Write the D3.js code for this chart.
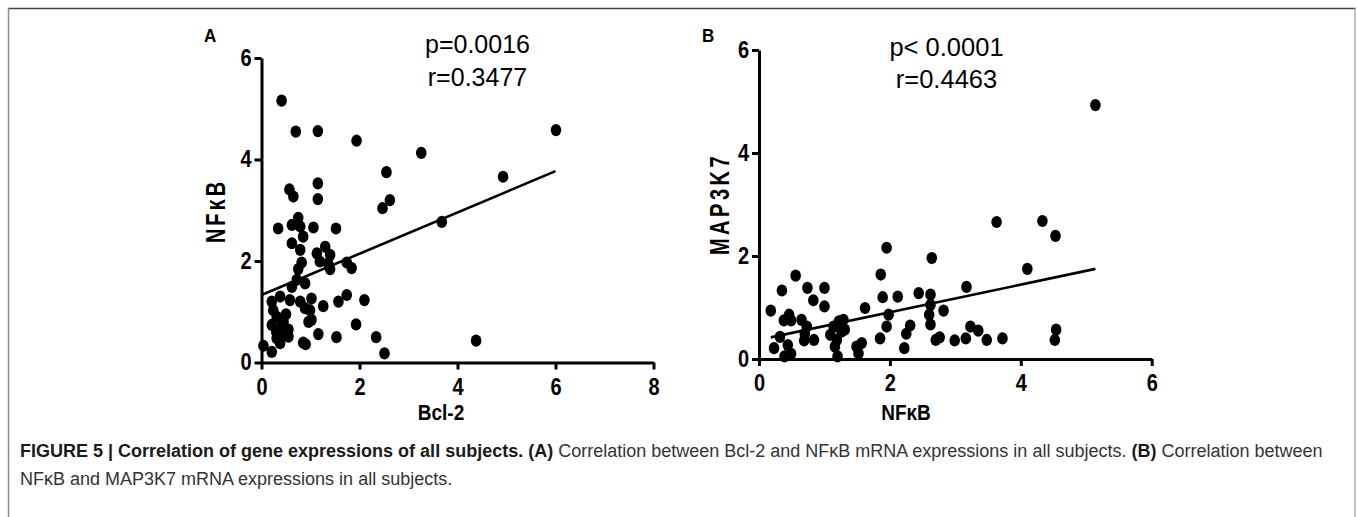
<!DOCTYPE html>
<html>
<head>
<meta charset="utf-8">
<script src="https://cdn.jsdelivr.net/npm/d3@7"></script>
<style>
  body { margin: 0; background: #fff; }
  svg { display: block; }
  text { font-family: "Liberation Sans", Arial, Helvetica, sans-serif; }
</style>
</head>
<body>
<svg id="fig" width="1357" height="517"></svg>
<script>
// Panel A: Bcl-2 (x) vs NFkB (y)
const bcl2 = [0.41, 0.70, 1.15, 1.94, 3.26, 6.01, 4.93, 2.55, 0.57, 0.65, 1.15, 1.15, 2.62, 2.47, 0.75,
  0.34, 0.62, 0.79, 1.06, 1.52, 0.85, 0.62, 0.79, 1.13, 1.30, 1.40, 1.19, 1.36, 1.40, 1.74, 1.84,
  0.82, 0.75, 0.72, 0.89, 0.62, 0.21, 0.38, 0.58, 0.79, 1.02, 0.89, 0.99, 1.02, 1.26, 1.57, 1.74,
  2.10, 0.24, 0.31, 0.21, 0.41, 0.51, 0.45, 0.31, 0.55, 0.04, 0.21, 0.38, 0.85, 1.16, 1.53, 1.93,
  2.34, 2.51, 3.68, 4.38, 0.30, 0.45, 0.50, 0.55, 0.90, 0.96];
const nfkbA = [5.16, 4.55, 4.56, 4.37, 4.13, 4.58, 3.66, 3.75, 3.41, 3.27, 3.53, 3.22, 3.20, 3.04, 2.85,
  2.64, 2.71, 2.68, 2.66, 2.64, 2.48, 2.35, 2.22, 2.15, 2.28, 2.12, 1.99, 1.95, 1.84, 1.97, 1.86,
  1.97, 1.84, 1.63, 1.56, 1.49, 1.20, 1.30, 1.23, 1.20, 1.26, 1.07, 1.03, 0.84, 1.11, 1.20, 1.33,
  1.23, 1.03, 0.90, 0.74, 0.71, 0.64, 0.54, 0.48, 0.51, 0.33, 0.21, 0.38, 0.39, 0.56, 0.50, 0.75,
  0.50, 0.18, 2.77, 0.43, 0.60, 0.80, 0.95, 0.65, 0.36, 0.80];
const fitAx = [0, 6.0];
const fitAy = [1.33, 3.77];

// Panel B: NFkB (x) vs MAP3K7 (y)
const nfkbB = [5.14, 3.63, 4.33, 4.53, 1.95, 2.64, 4.10, 1.86, 0.56, 0.35, 0.74, 1.00, 3.17, 0.83, 1.89,
  2.12, 2.44, 2.62, 0.18, 1.00, 1.62, 2.82, 2.62, 2.60, 1.98, 1.95, 2.31, 2.25, 2.62, 1.85, 2.22,
  2.70, 2.76, 2.99, 3.16, 3.23, 3.35, 3.48, 3.72, 4.54, 4.52, 0.38, 0.46, 0.49, 0.65, 0.70, 0.84,
  0.69, 0.73, 0.23, 0.32, 0.39, 0.49, 0.44, 1.09, 1.14, 1.22, 1.29, 1.26, 1.19, 1.16, 1.20, 1.31,
  1.49, 1.57, 1.52];
const map3k7 = [4.93, 2.66, 2.68, 2.39, 2.16, 1.96, 1.75, 1.64, 1.62, 1.33, 1.38, 1.38, 1.40, 1.14, 1.20,
  1.21, 1.28, 1.25, 0.94, 1.02, 0.99, 0.94, 1.05, 0.86, 0.86, 0.63, 0.65, 0.49, 0.67, 0.40, 0.21,
  0.37, 0.42, 0.36, 0.40, 0.63, 0.55, 0.37, 0.40, 0.57, 0.37, 0.75, 0.86, 0.75, 0.76, 0.49, 0.37,
  0.36, 0.63, 0.21, 0.43, 0.05, 0.10, 0.27, 0.47, 0.63, 0.73, 0.76, 0.53, 0.37, 0.24, 0.05, 0.57,
  0.24, 0.31, 0.11];
const fitBx = [0.18, 5.14];
const fitBy = [0.42, 1.75];

const xTicksA = [0, 2, 4, 6, 8];
const xTicksB = [0, 2, 4, 6];
const yTicks = [0, 2, 4, 6];

const svg = d3.select("#fig");

// frame round the figure
svg.append("line").attr("x1", 8).attr("x2", 1355.5).attr("y1", 8.5).attr("y2", 8.5)
  .attr("stroke", "#444").attr("stroke-width", 1.5);
svg.append("line").attr("x1", 8.5).attr("x2", 8.5).attr("y1", 8).attr("y2", 517)
  .attr("stroke", "#888").attr("stroke-width", 1.5);
svg.append("line").attr("x1", 1355).attr("x2", 1355).attr("y1", 8).attr("y2", 517)
  .attr("stroke", "#999").attr("stroke-width", 1.2);

// text slightly taller than wide, as in the scanned figure
const tallText = (g, x, y, str, size, k, anchor, weight) =>
  g.append("text")
    .attr("transform", `translate(${x},${y}) scale(1,${k})`)
    .attr("text-anchor", anchor)
    .attr("font-size", size)
    .attr("font-weight", weight)
    .attr("fill", "#000")
    .text(str);

const styleTicks = (sel) => {
  sel.select(".domain").attr("stroke", "#000").attr("stroke-width", 3);
  sel.selectAll(".tick line").attr("stroke", "#000").attr("stroke-width", 3);
  sel.selectAll(".tick text")
    .attr("font-size", 20)
    .attr("font-weight", "bold")
    .attr("fill", "#000")
    .attr("font-family", '"Liberation Sans", Arial, sans-serif')
    .each(function () {
      const t = d3.select(this);
      const yy = +t.attr("y") || 0;
      t.attr("y", 0).attr("transform", `translate(0,${yy}) scale(1,1.15)`);
    });
};

const drawPanel = (p) => {
  const g = svg.append("g");
  const x = d3.scaleLinear().domain(p.xDomain).range(p.xRange);
  const y = d3.scaleLinear().domain([0, 6]).range(p.yRange);

  g.append("g")
    .attr("transform", `translate(0,${p.yRange[0]})`)
    .call(d3.axisBottom(x).tickValues(p.xTicks).tickFormat(d3.format("d"))
      .tickSize(7).tickSizeOuter(0).tickPadding(9))
    .call(styleTicks);

  g.append("g")
    .attr("transform", `translate(${p.xRange[0]},0)`)
    .call(d3.axisLeft(y).tickValues(yTicks).tickFormat(d3.format("d"))
      .tickSize(7).tickSizeOuter(0).tickPadding(3))
    .call(styleTicks);

  // regression line
  g.append("line")
    .attr("x1", x(p.fitX[0])).attr("y1", y(p.fitY[0]))
    .attr("x2", x(p.fitX[1])).attr("y2", y(p.fitY[1]))
    .attr("stroke", "#000").attr("stroke-width", 2.6);

  // points
  g.selectAll("ellipse.pt")
    .data(p.xs.map((v, i) => [v, p.ys[i]]))
    .enter().append("ellipse")
    .attr("class", "pt")
    .attr("cx", d => x(d[0]))
    .attr("cy", d => y(d[1]))
    .attr("rx", 5.3)
    .attr("ry", 6.1)
    .attr("fill", "#000");

  // panel letter
  tallText(g, p.letterX, 42, p.letter, 17, 1.1, "start", "bold");

  // statistics
  const cx = p.statX;
  g.append("text").attr("x", cx).attr("y", p.statY[0]).attr("text-anchor", "middle")
    .attr("font-size", p.statSize).text(p.stats[0]);
  g.append("text").attr("x", cx).attr("y", p.statY[1]).attr("text-anchor", "middle")
    .attr("font-size", p.statSize).text(p.stats[1]);

  // x title
  tallText(g, p.xTitleX, 420, p.xTitle, 19, 1.15, "middle", "bold");

  // y title
  g.append("text")
    .attr("transform", `translate(${p.yTitleX},${p.yTitleY}) rotate(-90) scale(1,1.35)`)
    .attr("text-anchor", "middle")
    .attr("dy", "0.36em")
    .attr("font-size", 20)
    .attr("font-weight", "bold")
    .attr("letter-spacing", p.yTitleSpacing)
    .text(p.yTitle);
};

drawPanel({
  xs: bcl2, ys: nfkbA, fitX: fitAx, fitY: fitAy,
  xDomain: [0, 8], xRange: [261.5, 653.5], yRange: [362.5, 58], xTicks: xTicksA,
  letter: "A", letterX: 204,
  stats: ["p=0.0016", "r=0.3477"], statX: 477.5, statY: [53, 86], statSize: 25,
  xTitle: "Bcl-2", xTitleX: 441,
  yTitle: "NF\u03BAB", yTitleX: 215, yTitleY: 211, yTitleSpacing: 3
});

drawPanel({
  xs: nfkbB, ys: map3k7, fitX: fitBx, fitY: fitBy,
  xDomain: [0, 6], xRange: [759, 1151.7], yRange: [359, 50], xTicks: xTicksB,
  letter: "B", letterX: 702,
  stats: ["p< 0.0001", "r=0.4463"], statX: 946.5, statY: [56, 88], statSize: 25.5,
  xTitle: "NF\u03BAB", xTitleX: 906,
  yTitle: "MAP3K7", yTitleX: 719, yTitleY: 204, yTitleSpacing: 3.5
});

// caption
const cap = svg.append("text").attr("x", 20).attr("y", 457).attr("font-size", 18).attr("fill", "#333");
cap.append("tspan").attr("font-weight", "bold").attr("fill", "#1a1a1a")
  .text("FIGURE 5 | Correlation of gene expressions of all subjects.");
cap.append("tspan").text(" ");
cap.append("tspan").attr("font-weight", "bold").attr("fill", "#1a1a1a").text("(A)");
cap.append("tspan").text(" Correlation between Bcl-2 and NF\u03BAB mRNA expressions in all subjects. ");
cap.append("tspan").attr("font-weight", "bold").attr("fill", "#1a1a1a").text("(B)");
cap.append("tspan").text(" Correlation between");

svg.append("text").attr("x", 20).attr("y", 485).attr("font-size", 18).attr("fill", "#333")
  .text("NF\u03BAB and MAP3K7 mRNA expressions in all subjects.");
</script>
</body>
</html>
